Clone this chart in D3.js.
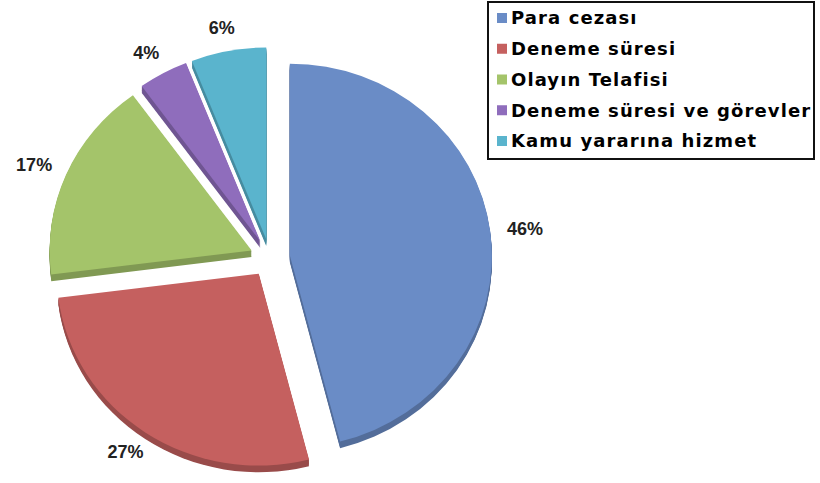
<!DOCTYPE html>
<html>
<head>
<meta charset="utf-8">
<script src="https://cdn.jsdelivr.net/npm/d3@7"></script>
<style>
  body { margin: 0; background: #fff; }
  svg text { font-family: "Liberation Sans", Arial, sans-serif; font-weight: bold; }
</style>
</head>
<body>
<div id="chart"></div>
<script>
var width = 820;
var height = 483;

// data
var categories = ["Para cezası", "Deneme süresi", "Olayın Telafisi", "Deneme süresi ve görevler", "Kamu yararına hizmet"];
var values = [46, 27, 17, 4, 6];
var labels = ["46%", "27%", "17%", "4%", "6%"];
var colors = ["#6a8cc6", "#c5605f", "#a4c46a", "#8f6dbc", "#5ab4cd"];

var cx = 270, cy = 258;
var radius = 202;
var squash = 0.95;   // slight tilt
var explode = 20;
var depth = 7;

var svg = d3.select("#chart").append("svg")
    .attr("width", width)
    .attr("height", height);

var pie = d3.pie().sort(null).value(function (d) { return d; });
var arcs = pie(values);

var arc = d3.arc().innerRadius(0).outerRadius(radius);

function offset(d) {
    var a = (d.startAngle + d.endAngle) / 2;
    return [Math.sin(a) * explode, -Math.cos(a) * explode];
}

var g = svg.append("g")
    .attr("transform", "translate(" + cx + "," + cy + ") scale(1," + squash + ")");

// side (thickness) of each slice
var sides = g.selectAll("g.side")
    .data(arcs)
    .enter().append("g")
    .attr("class", "side")
    .attr("transform", function (d) {
        var o = offset(d);
        return "translate(" + o[0] + "," + o[1] + ")";
    });

sides.selectAll("path")
    .data(function (d, i) {
        return d3.range(1, depth + 1).map(function (k) { return { a: d, k: k, i: i }; });
    })
    .enter().append("path")
    .attr("d", function (d) { return arc(d.a); })
    .attr("transform", function (d) { return "translate(0," + d.k + ")"; })
    .attr("fill", function (d) { return d3.color(colors[d.i]).darker(0.7); });

// top faces
g.selectAll("path.top")
    .data(arcs)
    .enter().append("path")
    .attr("class", "top")
    .attr("d", arc)
    .attr("transform", function (d) {
        var o = offset(d);
        return "translate(" + o[0] + "," + o[1] + ")";
    })
    .attr("fill", function (d, i) { return colors[i]; });

// percentage labels
var labelRx = 257, labelRy = 234;
svg.selectAll("text.pct")
    .data(arcs)
    .enter().append("text")
    .attr("class", "pct")
    .attr("x", function (d) {
        var a = (d.startAngle + d.endAngle) / 2;
        return cx + Math.sin(a) * labelRx;
    })
    .attr("y", function (d) {
        var a = (d.startAngle + d.endAngle) / 2;
        return cy - Math.cos(a) * labelRy;
    })
    .attr("text-anchor", "middle")
    .attr("dy", "0.35em")
    .style("font-size", "18px")
    .attr("fill", "#222")
    .text(function (d, i) { return labels[i]; });

// legend
var legend = svg.append("g").attr("transform", "translate(488,2)");

legend.append("rect")
    .attr("width", 326)
    .attr("height", 157)
    .attr("fill", "#fff")
    .attr("stroke", "#111")
    .attr("stroke-width", 2);

var ly = d3.scalePoint().domain(categories).range([16, 139]);

var items = legend.selectAll("g.item")
    .data(categories)
    .enter().append("g")
    .attr("class", "item")
    .attr("transform", function (d) { return "translate(0," + ly(d) + ")"; });

items.append("rect")
    .attr("x", 9)
    .attr("y", -5)
    .attr("width", 10)
    .attr("height", 10)
    .attr("fill", function (d, i) { return colors[i]; });

items.append("text")
    .attr("x", 23)
    .attr("dy", "0.36em")
    .style("font-family", "'DejaVu Sans', sans-serif")
    .style("font-size", "18px")
    .style("letter-spacing", "1.1px")
    .attr("fill", "#000")
    .text(function (d) { return d; });
</script>
</body>
</html>
